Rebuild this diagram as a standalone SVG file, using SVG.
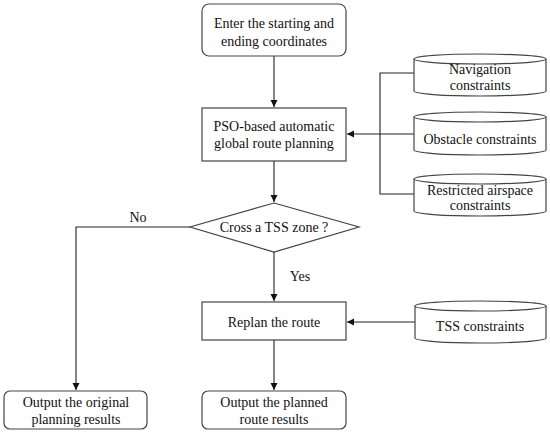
<svg xmlns="http://www.w3.org/2000/svg" width="550" height="434" viewBox="0 0 550 434">
<style>
.box{fill:#fff;stroke:#444;stroke-width:1.2}
.cyl{fill:#fff;stroke:#444;stroke-width:1.2}
.ln{fill:none;stroke:#222;stroke-width:1.1}
text{font-family:"Liberation Serif","Times New Roman",serif;font-size:14px;fill:#111;text-anchor:middle}
</style>
<defs>
<marker id="ah" markerWidth="8" markerHeight="8" refX="7" refY="4" orient="auto" markerUnits="userSpaceOnUse">
<path d="M0,0.5 L7,4 L0,7.5 Z" fill="#111"/>
</marker>
</defs>
<rect width="550" height="434" fill="#fff"/>
<g id="connectors">
<line class="ln" x1="274" y1="56" x2="274" y2="107" marker-end="url(#ah)"/>
<line class="ln" x1="380" y1="134" x2="347" y2="134" marker-end="url(#ah)"/>
<polyline class="ln" points="414,73 380,73 380,194 414,194"/>
<line class="ln" x1="380" y1="134" x2="414" y2="134"/>
<line class="ln" x1="274" y1="161" x2="274" y2="202" marker-end="url(#ah)"/>
<polyline class="ln" points="190,227 76,227 76,390" marker-end="url(#ah)"/>
<line class="ln" x1="274" y1="252" x2="274" y2="301" marker-end="url(#ah)"/>
<line class="ln" x1="415" y1="322" x2="347" y2="322" marker-end="url(#ah)"/>
<line class="ln" x1="274" y1="340" x2="274" y2="390" marker-end="url(#ah)"/>
<text x="138" y="222">No</text>
<text x="300" y="281">Yes</text>
</g>
<g id="start">
<rect class="box" x="202" y="4" width="144" height="52" rx="7"/>
<text x="274" y="28">Enter the starting and</text>
<text x="274" y="46">ending coordinates</text>
</g>
<g id="pso">
<rect class="box" x="202" y="108" width="144" height="53"/>
<text x="274" y="131">PSO-based automatic</text>
<text x="274" y="148">global route planning</text>
</g>
<g id="nav">
<path class="cyl" d="M414,59 A66,5 0 0 1 546,59 L546,91 A66,5 0 0 1 414,91 Z"/>
<path class="cyl" d="M414,59 A66,5 0 0 0 546,59"/>
<text x="480" y="74">Navigation</text>
<text x="480" y="90">constraints</text>
</g>
<g id="obstacle">
<path class="cyl" d="M414,117 A66,5 0 0 1 546,117 L546,150 A66,5 0 0 1 414,150 Z"/>
<path class="cyl" d="M414,117 A66,5 0 0 0 546,117"/>
<text x="480" y="144">Obstacle constraints</text>
</g>
<g id="restricted">
<path class="cyl" d="M414,179 A66,5 0 0 1 546,179 L546,211 A66,5 0 0 1 414,211 Z"/>
<path class="cyl" d="M414,179 A66,5 0 0 0 546,179"/>
<text x="480" y="195">Restricted airspace</text>
<text x="480" y="210">constraints</text>
</g>
<g id="decision">
<polygon class="box" points="274,203 359,227 274,252 190,227"/>
<text x="274" y="232">Cross a TSS zone ?</text>
</g>
<g id="replan">
<rect class="box" x="202" y="302" width="144" height="38"/>
<text x="274" y="327">Replan the route</text>
</g>
<g id="tss">
<path class="cyl" d="M415,306 A65.5,5 0 0 1 546,306 L546,338 A65.5,5 0 0 1 415,338 Z"/>
<path class="cyl" d="M415,306 A65.5,5 0 0 0 546,306"/>
<text x="480" y="331">TSS constraints</text>
</g>
<g id="out-original">
<rect class="box" x="4" y="391" width="143" height="38" rx="6"/>
<text x="76" y="407">Output the original</text>
<text x="76" y="424">planning results</text>
</g>
<g id="out-planned">
<rect class="box" x="202" y="391" width="144" height="38" rx="6"/>
<text x="274" y="407">Output the planned</text>
<text x="274" y="424">route results</text>
</g>
</svg>
